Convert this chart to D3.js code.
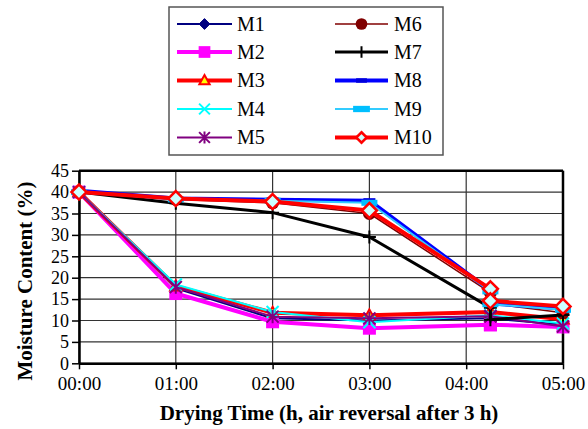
<!DOCTYPE html>
<html><head><meta charset="utf-8">
<script src="https://cdn.jsdelivr.net/npm/d3@7"></script>
<style>
html,body{margin:0;padding:0;background:#fff;}
svg{display:block;}
svg text{font-family:"Liberation Serif","Times New Roman",Times,"DejaVu Serif",serif !important;}
</style></head>
<body><svg id="c" width="588" height="429"></svg>
<script>
// ---- data ----
const timeHours = [0, 1, 2, 3, 4.25, 4.25, 5];
const xTickHours = [0, 1, 2, 3, 4, 5];
const xTickLabels = ["00:00", "01:00", "02:00", "03:00", "04:00", "05:00"];
const yTicks = [0, 5, 10, 15, 20, 25, 30, 35, 40, 45];
const seriesNames = ["M1","M2","M3","M4","M5","M6","M7","M8","M9","M10"];
const M1  = [40.3, 17.5, 10.5, 10.0, 10.5, 10.5, 9.0];
const M2  = [40.0, 16.3, 9.7, 8.2, 9.0, 9.0, 8.5];
const M3  = [40.0, 18.0, 11.8, 11.2, 12.0, 12.0, 10.3];
const M4  = [40.0, 18.4, 12.0, 9.6, 11.2, 11.2, 9.3];
const M5  = [40.0, 17.8, 10.9, 10.5, 11.0, 11.0, 8.6];
const M6  = [40.0, 38.3, 37.5, 35.0, 16.5, 14.0, 11.8];
const M7  = [40.0, 37.4, 35.2, 29.5, 13.0, 10.2, 11.3];
const M8  = [40.3, 38.5, 38.2, 38.0, 17.0, 14.0, 12.8];
const M9  = [40.0, 38.3, 38.0, 37.5, 16.8, 13.8, 12.5];
const M10 = [40.0, 38.5, 37.8, 35.7, 17.4, 14.6, 13.3];
const seriesValues = [M1,M2,M3,M4,M5,M6,M7,M8,M9,M10];

// ---- styles ----
const FONT = "'Liberation Serif','Times New Roman',Times,'DejaVu Serif',serif";
const styles = [
  {color:"#000080", w:2,   m:"diamond",  fill:"#000080", stroke:"#000080", r:6},
  {color:"#ff00ff", w:4,   m:"square",   fill:"#ff00ff", stroke:"#ff00ff", r:6.5},
  {color:"#ff0000", w:4,   m:"triangle", fill:"#ffff00", stroke:"#ff0000", r:6},
  {color:"#00ffff", w:2,   m:"x",        fill:"none",    stroke:"#00ffff", r:6},
  {color:"#800080", w:2,   m:"star",     fill:"none",    stroke:"#800080", r:6},
  {color:"#800000", w:1.5, m:"circle",   fill:"#800000", stroke:"#800000", r:6.5},
  {color:"#000000", w:3,   m:"plus",     fill:"none",    stroke:"#000000", r:6.5},
  {color:"#0000ff", w:4,   m:"dash",     fill:"#0000dd", stroke:"none",    r:6},
  {color:"#33ccff", w:2,   m:"bar",      fill:"#00bfff", stroke:"none",    r:8},
  {color:"#ff0000", w:4,   m:"odiamond", fill:"#ccffff", stroke:"#ff0000", r:7.5}
];

const svg = d3.select("#c");
const x = d3.scaleLinear().domain([0,5]).range([79,563]);
const y = d3.scaleLinear().domain([0,45]).range([363.3,170.7]);

// gridlines
svg.append("g").selectAll("line.h").data(yTicks).join("line")
  .attr("x1", x(0)).attr("x2", x(5)).attr("y1", d=>y(d)).attr("y2", d=>y(d))
  .attr("stroke", "#333").attr("stroke-width", 1.2);
svg.append("g").selectAll("line.v").data(xTickHours).join("line")
  .attr("x1", d=>x(d)).attr("x2", d=>x(d)).attr("y1", y(0)).attr("y2", y(45))
  .attr("stroke", "#333").attr("stroke-width", 1.2);

// frame
svg.append("line").attr("x1", x(0)).attr("x2", x(5)).attr("y1", y(45)).attr("y2", y(45)).attr("stroke","#000").attr("stroke-width",2.5);
svg.append("line").attr("x1", x(5)).attr("x2", x(5)).attr("y1", y(45)).attr("y2", y(0)).attr("stroke","#000").attr("stroke-width",2.5);

// axes
const xAxis = d3.axisBottom(x).tickValues(xTickHours).tickFormat((d,i)=>xTickLabels[i]).tickSize(6).tickSizeOuter(0).tickPadding(7);
const gx = svg.append("g").attr("transform", `translate(0,${y(0)})`).call(xAxis).attr("font-family", FONT);
gx.select(".domain").attr("stroke","#000").attr("stroke-width",2.5);
gx.selectAll(".tick line").attr("stroke","#000").attr("stroke-width",1.5);
gx.selectAll(".tick text").attr("font-size", 19).attr("fill","#000").attr("font-family", FONT);

const yAxis = d3.axisLeft(y).tickValues(yTicks).tickSize(7).tickSizeOuter(0).tickPadding(3);
const gy = svg.append("g").attr("transform", `translate(${x(0)},0)`).call(yAxis).attr("font-family", FONT);
gy.select(".domain").attr("stroke","#000").attr("stroke-width",2.5);
gy.selectAll(".tick line").attr("stroke","#000").attr("stroke-width",1.5);
gy.selectAll(".tick text").attr("font-size", 18).attr("fill","#000").attr("font-family", FONT);

// titles
svg.append("text").attr("x", 329).attr("y", 420).attr("text-anchor","middle").attr("font-family", FONT)
  .attr("font-size", 21).attr("font-weight","bold").text("Drying Time (h, air reversal after 3 h)");
svg.append("text").attr("transform","translate(32,281) rotate(-90)").attr("text-anchor","middle").attr("font-family", FONT)
  .attr("font-size", 21).attr("font-weight","bold").text("Moisture Content (%)");

// marker drawing
function marker(g, st, k) {
  const r = st.r * k;
  switch (st.m) {
    case "diamond":
    case "odiamond":
      g.append("path").attr("d", `M0,${-r}L${r},0L0,${r}L${-r},0Z`)
        .attr("fill", st.fill).attr("stroke", st.stroke).attr("stroke-width", st.m==="odiamond"?2.5:1);
      break;
    case "square":
      g.append("rect").attr("x",-r).attr("y",-r).attr("width",2*r).attr("height",2*r).attr("fill",st.fill);
      break;
    case "triangle":
      g.append("path").attr("d", `M0,${-r}L${r*0.95},${r*0.7}L${-r*0.95},${r*0.7}Z`)
        .attr("fill", st.fill).attr("stroke", st.stroke).attr("stroke-width", 2);
      break;
    case "x":
      g.append("path").attr("d", `M${-r},${-r}L${r},${r}M${-r},${r}L${r},${-r}`)
        .attr("stroke", st.stroke).attr("stroke-width", 2).attr("fill","none");
      break;
    case "star":
      g.append("path").attr("d", `M${-r},${-r}L${r},${r}M${-r},${r}L${r},${-r}M0,${-r*1.1}L0,${r*1.1}`)
        .attr("stroke", st.stroke).attr("stroke-width", 2).attr("fill","none");
      break;
    case "circle":
      g.append("circle").attr("r", r).attr("fill", st.fill);
      break;
    case "plus":
      g.append("path").attr("d", `M${-r},0L${r},0M0,${-r}L0,${r}`)
        .attr("stroke", st.stroke).attr("stroke-width", 2).attr("fill","none");
      break;
    case "dash":
      g.append("rect").attr("x",-r).attr("y",-2.5*k).attr("width",2*r).attr("height",5*k).attr("fill",st.fill);
      break;
    case "bar":
      g.append("rect").attr("x",-r).attr("y",-3*k).attr("width",2*r).attr("height",6*k).attr("fill",st.fill);
      break;
  }
}

// series
const line = d3.line().x((d,i)=>x(timeHours[i])).y(d=>y(d));
seriesValues.forEach((vals, si) => {
  const st = styles[si];
  const g = svg.append("g").attr("class","series");
  g.append("path").datum(vals).attr("d", line).attr("fill","none")
    .attr("stroke", st.color).attr("stroke-width", st.w).attr("stroke-linejoin","round");
  vals.forEach((v, i) => {
    const mg = g.append("g").attr("transform", `translate(${x(timeHours[i])},${y(v)})`);
    marker(mg, st, 1);
  });
});

// legend
const lg = svg.append("g");
lg.append("rect").attr("x",169).attr("y",7).attr("width",274).attr("height",148)
  .attr("fill","#fff").attr("stroke","#555").attr("stroke-width",1.5);
const rowY = [24, 52, 80.5, 109, 137.5];
seriesNames.forEach((name, i) => {
  const col = i < 5 ? 0 : 1;
  const row = i % 5;
  const x1 = col ? 335 : 177, x2 = col ? 388 : 232;
  const yy = rowY[row];
  const st = styles[i];
  lg.append("line").attr("x1",x1).attr("x2",x2).attr("y1",yy).attr("y2",yy)
    .attr("stroke", st.color).attr("stroke-width", st.w);
  const mg = lg.append("g").attr("transform", `translate(${(x1+x2)/2},${yy})`);
  marker(mg, st, i===9 ? 0.7 : (i===8 ? 1.05 : 0.9));
  lg.append("text").attr("x", col ? 394 : 237).attr("y", yy).attr("dy","0.33em").attr("font-family", FONT)
    .attr("font-size", 20).attr("fill","#000").text(name);
});
</script></body></html>
